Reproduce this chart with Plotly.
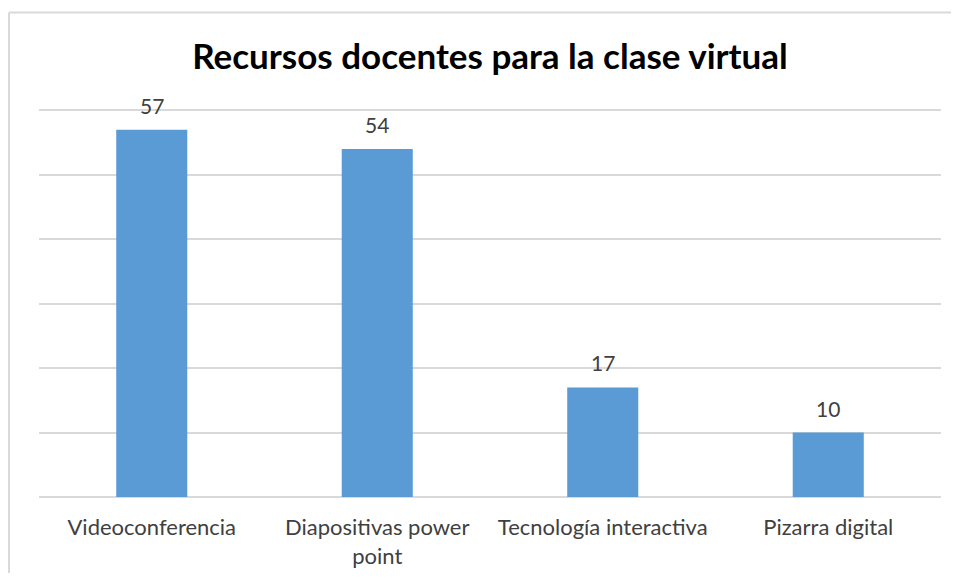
import plotly.graph_objects as go

categories = ["Videoconferencia", "Diapositivas power<br>point", "Tecnología interactiva", "Pizarra digital"]
values = [57, 54, 17, 10]
title_text = "Recursos docentes para la clase virtual"

# page body has an 8px default margin: lay out in screen pixels minus that offset
OFF = 8
W, H = 959 - OFF, 581 - 2 * OFF
plot_left, plot_right, plot_bottom = 39, 941, 497
unit = (497 - 110) / 60.0
ymax = 61
plot_top = plot_bottom - ymax * unit
L = plot_left - OFF
R = (W + OFF) - plot_right
T = plot_top - OFF
B = (H + OFF) - plot_bottom
pw, ph = W - L - R, H - T - B

fig = go.Figure()
fig.add_trace(go.Bar(
    x=categories, y=values, marker=dict(color="#5b9bd5", line=dict(width=0)),
    width=0.315, hoverinfo="skip",
))

for c, v in zip(categories, values):
    fig.add_annotation(x=c, y=v, text=str(v), showarrow=False, yanchor="bottom",
                       yshift=10, font=dict(family="Lato", size=21, color="#404040"))

def px(xs):
    return (xs - OFF - L) / pw

def py(ys):
    return (H - B - (ys - OFF)) / ph

# chart frame: only its top and left edges are visible in the crop
frame = dict(color="#d9d9d9", width=2)
fig.add_shape(type="line", xref="paper", yref="paper",
              x0=px(9), x1=px(958), y0=py(12), y1=py(12), line=frame, layer="below")
fig.add_shape(type="line", xref="paper", yref="paper",
              x0=px(9), x1=px(9), y0=py(12), y1=py(580), line=frame, layer="below")

fig.update_layout(
    width=W, height=H, margin=dict(l=L, r=R, t=T, b=B, autoexpand=False),
    paper_bgcolor="white", plot_bgcolor="white",
    title=dict(text="<b>" + title_text + "</b>", x=(490 - OFF) / W, xanchor="center",
               y=1 - 49 / H, yanchor="middle",
               font=dict(family="Lato", size=35, color="#000000")),
    showlegend=False, bargap=0.685,
    xaxis=dict(showgrid=False, showline=False, zeroline=False, automargin=False,
               ticks="outside", ticklen=11, tickcolor="rgba(0,0,0,0)",
               tickfont=dict(family="Lato", size=22, color="#404040")),
    yaxis=dict(range=[0, ymax], tickvals=[0, 10, 20, 30, 40, 50, 60], automargin=False,
               showgrid=True, gridcolor="#d9d9d9", gridwidth=1.5,
               zeroline=True, zerolinecolor="#d9d9d9", zerolinewidth=1.5,
               showticklabels=False, showline=False),
)

fig.write_html("out.html")
